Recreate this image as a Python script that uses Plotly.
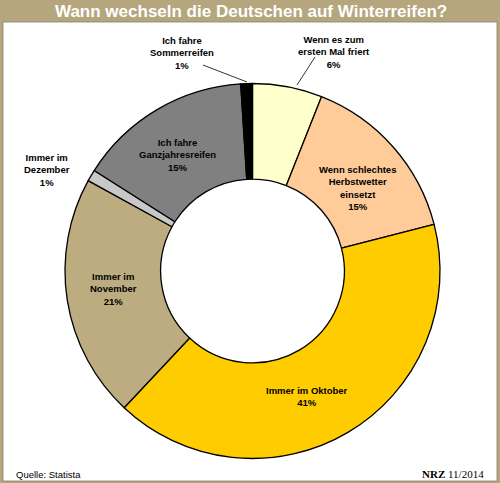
import plotly.graph_objects as go

W, H = 500, 483

# slices, clockwise from 12 o'clock
labels = [
    "Wenn es zum ersten Mal friert",
    "Wenn schlechtes Herbstwetter einsetzt",
    "Immer im Oktober",
    "Immer im November",
    "Immer im Dezember",
    "Ich fahre Ganzjahresreifen",
    "Ich fahre Sommerreifen",
]
values = [6, 15, 41, 21, 1, 15, 1]
colors = ["#FFFFCC", "#FFCC99", "#FFCC00", "#BCAC80", "#C8C8C8", "#808080", "#000000"]

# label text as printed on the chart
label_text = [
    "Wenn es zum<br>ersten Mal friert<br>6%",
    "Wenn schlechtes<br>Herbstwetter<br>einsetzt<br>15%",
    "Immer im Oktober<br>41%",
    "Immer im<br>November<br>21%",
    "Immer im<br>Dezember<br>1%",
    "Ich fahre<br>Ganzjahresreifen<br>15%",
    "Ich fahre<br>Sommerreifen<br>1%",
]
# label centres in pixels
label_pos = [(334, 52), (357, 188), (307, 396), (113, 289), (47, 170), (177, 155), (182, 53)]

TAN = "#B5A67E"


def px(x):
    return x / W


def py(y):
    return 1 - y / H


fig = go.Figure(go.Pie(
    labels=labels, values=values, sort=False, direction="clockwise", rotation=0,
    hole=0.49, textinfo="none", hoverinfo="label+percent",
    marker=dict(colors=colors, line=dict(color="#000000", width=1.3)),
    domain=dict(x=[px(65), px(440)], y=[py(458.5), py(83.5)]),
    showlegend=False,
))

shapes = [
    dict(type="rect", xref="paper", yref="paper", x0=px(3), x1=px(497), y0=py(481), y1=py(22),
         fillcolor="white", line=dict(color="#8a8070", width=0.8), layer="below"),
    # leader lines
    dict(type="line", xref="paper", yref="paper", x0=px(203), y0=py(65), x1=px(247), y1=py(82),
         line=dict(color="black", width=0.8)),
    dict(type="line", xref="paper", yref="paper", x0=px(315), y0=py(57), x1=px(297), y1=py(85),
         line=dict(color="black", width=0.8)),
]

annotations = [
    dict(text=t, x=px(x), y=py(y), xref="paper", yref="paper", showarrow=False,
         font=dict(family="Arial, Liberation Sans", size=9.5, color="black"),
         xanchor="center", yanchor="middle")
    for t, (x, y) in zip(["<b>" + s.replace("<br>", "</b><br><b>") + "</b>" for s in label_text], label_pos)
]
annotations += [
    dict(text="<b>Wann wechseln die Deutschen auf Winterreifen?</b>", x=px(251), y=py(11.5),
         xref="paper", yref="paper", showarrow=False, xanchor="center", yanchor="middle",
         font=dict(family="Arial, Liberation Sans", size=17, color="white")),
    dict(text="Quelle: Statista", x=px(14), y=py(474), xref="paper", yref="paper", showarrow=False,
         xanchor="left", yanchor="middle", font=dict(family="Arial, Liberation Sans", size=9.5, color="black")),
    dict(text="<b>NRZ</b> 11/2014", x=px(486), y=py(474), xref="paper", yref="paper", showarrow=False,
         xanchor="right", yanchor="middle", font=dict(family="Liberation Serif", size=11, color="black")),
]

fig.update_layout(
    width=W, height=H, margin=dict(l=0, r=0, t=0, b=0),
    paper_bgcolor=TAN, plot_bgcolor=TAN,
    shapes=shapes, annotations=annotations,
)
# page body margin would shift the figure by 8px
fig.write_html("out.html", config={"displayModeBar": False},
               post_script="document.body.style.margin='0';document.body.style.overflow='hidden';")
